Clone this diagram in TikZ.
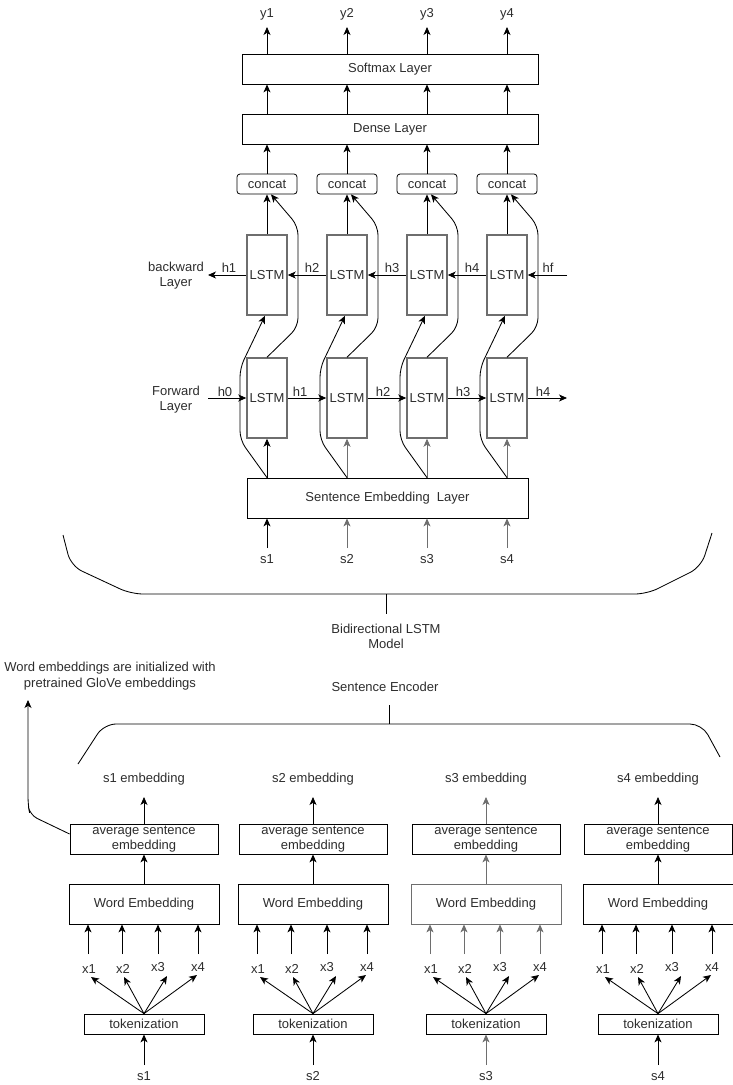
\documentclass[tikz,border=0pt]{standalone}
\usepackage{fontspec}
\setmainfont{Liberation Sans}
\usetikzlibrary{arrows.meta,calc}
\definecolor{txt}{RGB}{45,45,45}
\definecolor{lgray}{RGB}{110,110,110}
\begin{document}
\begin{tikzpicture}[x=1pt,y=-1pt,
  every node/.style={font=\fontsize{13}{15}\selectfont, text=txt, inner sep=0pt},
  box/.style={draw=black, line width=0.8pt, inner sep=0pt, align=center},
  lstm/.style={draw=lgray, line width=1.5pt, minimum width=40pt, minimum height=80pt, inner sep=0pt},
  cbox/.style={draw=black, line width=0.8pt, rounded corners=3pt, minimum width=60pt, minimum height=20pt},
  arr/.style={-{Stealth[length=8pt,width=7pt,inset=2.2pt]}, line width=0.85pt},
  curve/.style={arr, rounded corners=9pt},
  brace/.style={line width=0.85pt, rounded corners=12pt},
  lab/.style={align=center},
]
\useasboundingbox (0,0) rectangle (733,1085);

% ---------- top part ----------
\node[box, minimum width=296pt, minimum height=30pt] (softmax) at (390,69) {Softmax Layer};
\node[box, minimum width=296pt, minimum height=30pt] (dense) at (390,129) {Dense Layer};
\node[box, minimum width=281pt, minimum height=40pt] (se) at (387.5,498) {Sentence Embedding\ \ Layer};

\foreach \c/\i/\col in {267/1/black,347/2/lgray,427/3/lgray,507/4/lgray}{
  \node[cbox] (cc\i) at (\c,184) {concat};
  \node[lstm] (bl\i) at (\c,275) {LSTM};
  \node[lstm] (fl\i) at (\c,398) {LSTM};
  \node (y\i) at (\c,14) {y\i};
  \coordinate (ya\i) at (\c,27);
  \node (s\i) at (\c,559) {s\i};
  \coordinate (sa\i) at (\c,548);
  \draw[arr] (softmax.north -| ya\i) -- (ya\i);
  \draw[arr] (dense.north -| ya\i) -- (softmax.south -| ya\i);
  \draw[arr] (cc\i.north) -- (dense.south -| cc\i);
  \draw[arr] (bl\i.north) -- (cc\i.south);
  \draw[arr, draw=\col] (se.north -| fl\i) -- (fl\i.south);
  \draw[arr, draw=\col] (sa\i) -- (se.south -| sa\i);
  \draw[curve] (fl\i.north) -- ({\c+31},327) -- ({\c+31},226) -- ([xshift=4pt]cc\i.south);
  \draw[curve] (se.north -| fl\i) -- ({\c-27},440) -- ({\c-27},368) -- ([xshift=-2pt]bl\i.south);
}

% backward layer
\coordinate (hfin) at (567,275);
\coordinate (bout) at (208,275);
\draw[arr] (hfin) -- (bl4.east);
\draw[arr] (bl4.west) -- (bl3.east);
\draw[arr] (bl3.west) -- (bl2.east);
\draw[arr] (bl2.west) -- (bl1.east);
\draw[arr] (bl1.west) -- (bout);
\node at (229,268) {h1};
\node at (312,268) {h2};
\node at (392,268) {h3};
\node at (472,268) {h4};
\node at (548,268) {hf};
\node[lab] (bwl) at (176,276) {backward\\Layer};

% forward layer
\coordinate (h0in) at (208,398);
\coordinate (fout) at (567,398);
\draw[arr] (h0in) -- (fl1.west);
\draw[arr] (fl1.east) -- (fl2.west);
\draw[arr] (fl2.east) -- (fl3.west);
\draw[arr] (fl3.east) -- (fl4.west);
\draw[arr] (fl4.east) -- (fout);
\node at (225,392) {h0};
\node at (300,392) {h1};
\node at (383,392) {h2};
\node at (463,392) {h3};
\node at (543,392) {h4};
\node[lab] (fwl) at (176,400) {Forward\\Layer};

% ---------- braces ----------
\draw[brace] (63,535) -- (71,566) -- (131,594) -- (647,594) -- (701,567) -- (712,533);
\node[lab] (bilstm) at (386,636) {Bidirectional LSTM\\Model};
\draw[line width=0.85pt] (386,594) -- (386,614);

\node (senc) at (385,687) {Sentence Encoder};
\draw[brace] (78,764) -- (104,724) -- (702,724) -- (720,757);
\draw[line width=0.85pt] (389,705) -- (389,724);

\node[lab, font=\fontsize{13}{16}\selectfont] (glove) at (110,676) {Word embeddings are initialized with\\pretrained GloVe embeddings};

% ---------- bottom columns ----------
\foreach \c/\i/\col in {144/1/black,313/2/black,486/3/lgray,658/4/black}{
  \node (emb\i) at (\c,779) {s\i\ embedding};
  \coordinate (ea\i) at (\c,797);
  \node[box, minimum width=148pt, minimum height=30pt] (avg\i) at (\c,839) {average sentence\\embedding};
  \node[box, draw=\col, minimum width=150pt, minimum height=40pt] (we\i) at (\c,904) {Word Embedding};
  \node[box, minimum width=120pt, minimum height=20pt] (tok\i) at (\c,1024) {tokenization};
  \node (sb\i) at (\c,1076) {s\i};
  \coordinate (sbc\i) at (\c,1065);
  \draw[arr, draw=\col] (avg\i.north) -- (ea\i);
  \draw[arr, draw=\col] (we\i.north) -- (avg\i.south);
  \draw[arr, draw=\col] (sbc\i) -- (tok\i.south);
  \node (xl\i a) at ({\c-55},969) {x1};
  \node (xl\i b) at ({\c-21},969) {x2};
  \node (xl\i c) at ({\c+14},967) {x3};
  \node (xl\i d) at ({\c+54},967) {x4};
  \foreach \dx/\k in {-56/a,-22/b,14/c,54/d}{
    \coordinate (xu\i\k) at ({\c+\dx},954);
    \draw[arr, draw=\col] (xu\i\k) -- (we\i.south -| xu\i\k);
  }
  \foreach \dx/\dy/\k in {-53/977/a,-20/977/b,23/976/c,53/975/d}{
    \coordinate (xf\i\k) at ({\c+\dx},\dy);
    \draw[arr] (tok\i.north) -- (xf\i\k);
  }
}

% glove arrow
\coordinate (gtip) at (28,700);
\draw[arr, rounded corners=8pt] ([yshift=5pt]avg1.west) -- (30,815) -- (28,805) -- (gtip);
\end{tikzpicture}
\end{document}
